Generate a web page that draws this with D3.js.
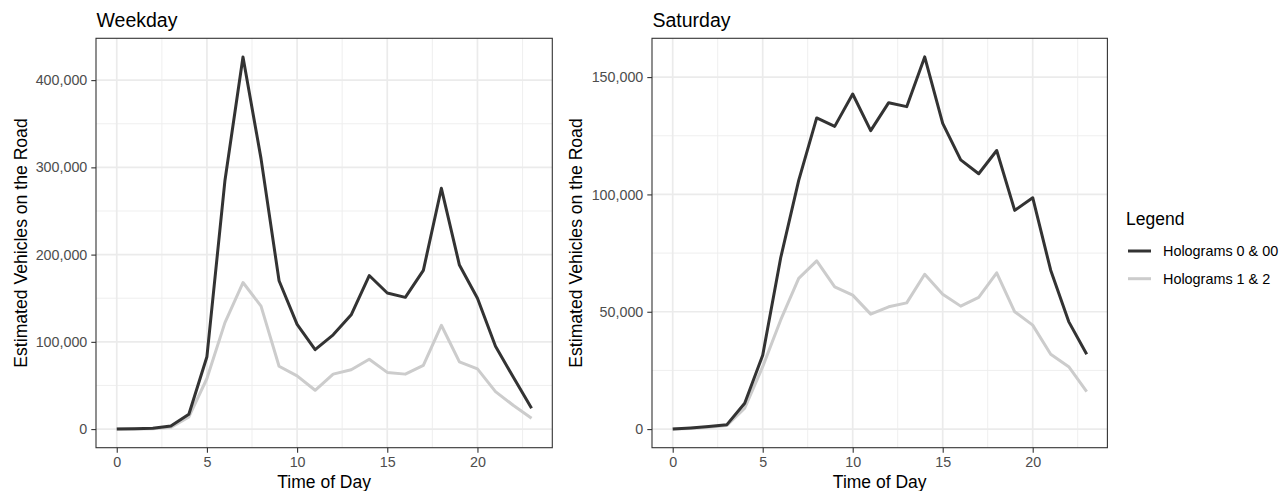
<!DOCTYPE html>
<html>
<head>
<meta charset="utf-8">
<script src="https://cdn.jsdelivr.net/npm/d3@7"></script>
<style>
	body { margin: 0; background: #fff; }
	svg { font-family: "Liberation Sans", Arial, sans-serif; }
</style>
</head>
<body>
<svg id="chart" width="1288" height="491"></svg>
<script>
let hours = d3.range(0, 24)

let weekday_dark = [0, 500, 1000, 3500, 17000, 83000, 285000, 426600, 310000, 170000, 120000, 91000,
	108000, 131000, 176000, 156000, 151000, 182000, 276000, 188000, 150000, 95000, 59000, 24000]
let weekday_light = [0, 0, 500, 2000, 14000, 58000, 122000, 168000, 141000, 72000, 61000, 44500,
	63000, 68000, 80000, 65000, 63000, 73000, 119000, 77000, 69000, 43000, 27000, 12500]

let saturday_dark = [0, 500, 1100, 1800, 11000, 31500, 73000, 106000, 132600, 129000, 142800, 127200,
	139100, 137400, 158600, 130300, 114700, 108800, 118700, 93200, 98600, 67700, 45800, 31900]
let saturday_light = [0, 300, 800, 1500, 8900, 26600, 46500, 64200, 71700, 60600, 57100, 49000,
	52100, 53800, 66000, 57500, 52400, 56100, 66600, 50000, 44300, 31900, 26600, 16000]

let x_ticks = [0, 5, 10, 15, 20]
let x_minor = [2.5, 7.5, 12.5, 17.5, 22.5]
let weekday_ticks = [0, 100000, 200000, 300000, 400000]
let weekday_minor = [50000, 150000, 250000, 350000]
let saturday_ticks = [0, 50000, 100000, 150000]
let saturday_minor = [25000, 75000, 125000]

let series_names = ['Holograms 0 & 00', 'Holograms 1 & 2']
let series_colors = ['#333333', '#cccccc']

let FONT = '"Liberation Sans", Arial, sans-serif'
let svg = d3.select('#chart')

function expand(lo, hi) {
	let pad = (hi - lo) * 0.05
	return [lo - pad, hi + pad]
}

function drawPanel(box, title, dark, light, ticks, minor) {
	let x = d3.scaleLinear().domain(expand(0, 23)).range([box.left, box.right])
	let all = dark.concat(light)
	let y = d3.scaleLinear().domain(expand(d3.min(all), d3.max(all))).range([box.bottom, box.top])

	let g = svg.append('g')

	// minor grid
	g.selectAll('line.xminor').data(x_minor).enter().append('line')
		.attr('x1', (d) => x(d)).attr('x2', (d) => x(d))
		.attr('y1', box.top).attr('y2', box.bottom)
		.attr('stroke', '#ededed').attr('stroke-width', 0.9)
	g.selectAll('line.yminor').data(minor).enter().append('line')
		.attr('y1', (d) => y(d)).attr('y2', (d) => y(d))
		.attr('x1', box.left).attr('x2', box.right)
		.attr('stroke', '#ededed').attr('stroke-width', 0.9)

	// major grid
	g.selectAll('line.xmajor').data(x_ticks).enter().append('line')
		.attr('x1', (d) => x(d)).attr('x2', (d) => x(d))
		.attr('y1', box.top).attr('y2', box.bottom)
		.attr('stroke', '#ebebeb').attr('stroke-width', 1.7)
	g.selectAll('line.ymajor').data(ticks).enter().append('line')
		.attr('y1', (d) => y(d)).attr('y2', (d) => y(d))
		.attr('x1', box.left).attr('x2', box.right)
		.attr('stroke', '#ebebeb').attr('stroke-width', 1.7)

	let line = d3.line()
		.x((d, i) => x(hours[i]))
		.y((d) => y(d))

	g.append('path').datum(light)
		.attr('d', line)
		.attr('fill', 'none')
		.attr('stroke', series_colors[1])
		.attr('stroke-width', 3)
		.attr('stroke-linejoin', 'round')
	g.append('path').datum(dark)
		.attr('d', line)
		.attr('fill', 'none')
		.attr('stroke', series_colors[0])
		.attr('stroke-width', 3)
		.attr('stroke-linejoin', 'round')

	// border
	g.append('rect')
		.attr('x', box.left).attr('y', box.top)
		.attr('width', box.right - box.left).attr('height', box.bottom - box.top)
		.attr('fill', 'none').attr('stroke', '#333').attr('stroke-width', 1.1)

	let x_axis = g.append('g')
		.attr('transform', `translate(0, ${box.bottom})`)
		.call(d3.axisBottom(x).tickValues(x_ticks).tickSize(5).tickPadding(4))
	let y_axis = g.append('g')
		.attr('transform', `translate(${box.left}, 0)`)
		.call(d3.axisLeft(y).tickValues(ticks).tickSize(4.7).tickPadding(4).tickFormat(d3.format(',')))

	for (let a of [x_axis, y_axis]) {
		a.select('.domain').remove()
		a.selectAll('.tick line').attr('stroke', '#333').attr('stroke-width', 1.1)
		a.selectAll('.tick text')
			.attr('fill', '#4d4d4d')
			.style('font-size', '14.3px')
			.style('font-family', FONT)
	}

	g.append('text')
		.attr('x', box.left + 0.5)
		.attr('y', 27)
		.attr('fill', '#000')
		.style('font-size', '19.5px')
		.text(title)

	g.append('text')
		.attr('x', (box.left + box.right) / 2)
		.attr('y', 487.5)
		.attr('text-anchor', 'middle')
		.style('font-size', '17.5px')
		.text('Time of Day')

	g.append('text')
		.attr('transform', `translate(${box.label_x}, ${(box.top + box.bottom) / 2}) rotate(-90)`)
		.attr('text-anchor', 'middle')
		.style('font-size', '17.6px')
		.text('Estimated Vehicles on the Road')
}

drawPanel({ left: 96, right: 552.3, top: 38.3, bottom: 447.7, label_x: 26.5 },
	'Weekday', weekday_dark, weekday_light, weekday_ticks, weekday_minor)
drawPanel({ left: 652, right: 1107.4, top: 38.3, bottom: 447.7, label_x: 582 },
	'Saturday', saturday_dark, saturday_light, saturday_ticks, saturday_minor)

// legend
let legend = svg.append('g')
legend.append('text')
	.attr('x', 1126)
	.attr('y', 225)
	.style('font-size', '17.5px')
	.text('Legend')

let items = legend.selectAll('g.item')
	.data(series_names)
	.enter().append('g')
	.attr('transform', (d, i) => `translate(1128, ${251 + i * 27.7})`)

items.append('line')
	.attr('x1', 0).attr('x2', 23)
	.attr('stroke', (d, i) => series_colors[i])
	.attr('stroke-width', 3)
items.append('text')
	.attr('x', 35)
	.attr('dy', '0.35em')
	.style('font-size', '14.4px')
	.attr('fill', '#000')
	.text((d) => d)
</script>
</body>
</html>
